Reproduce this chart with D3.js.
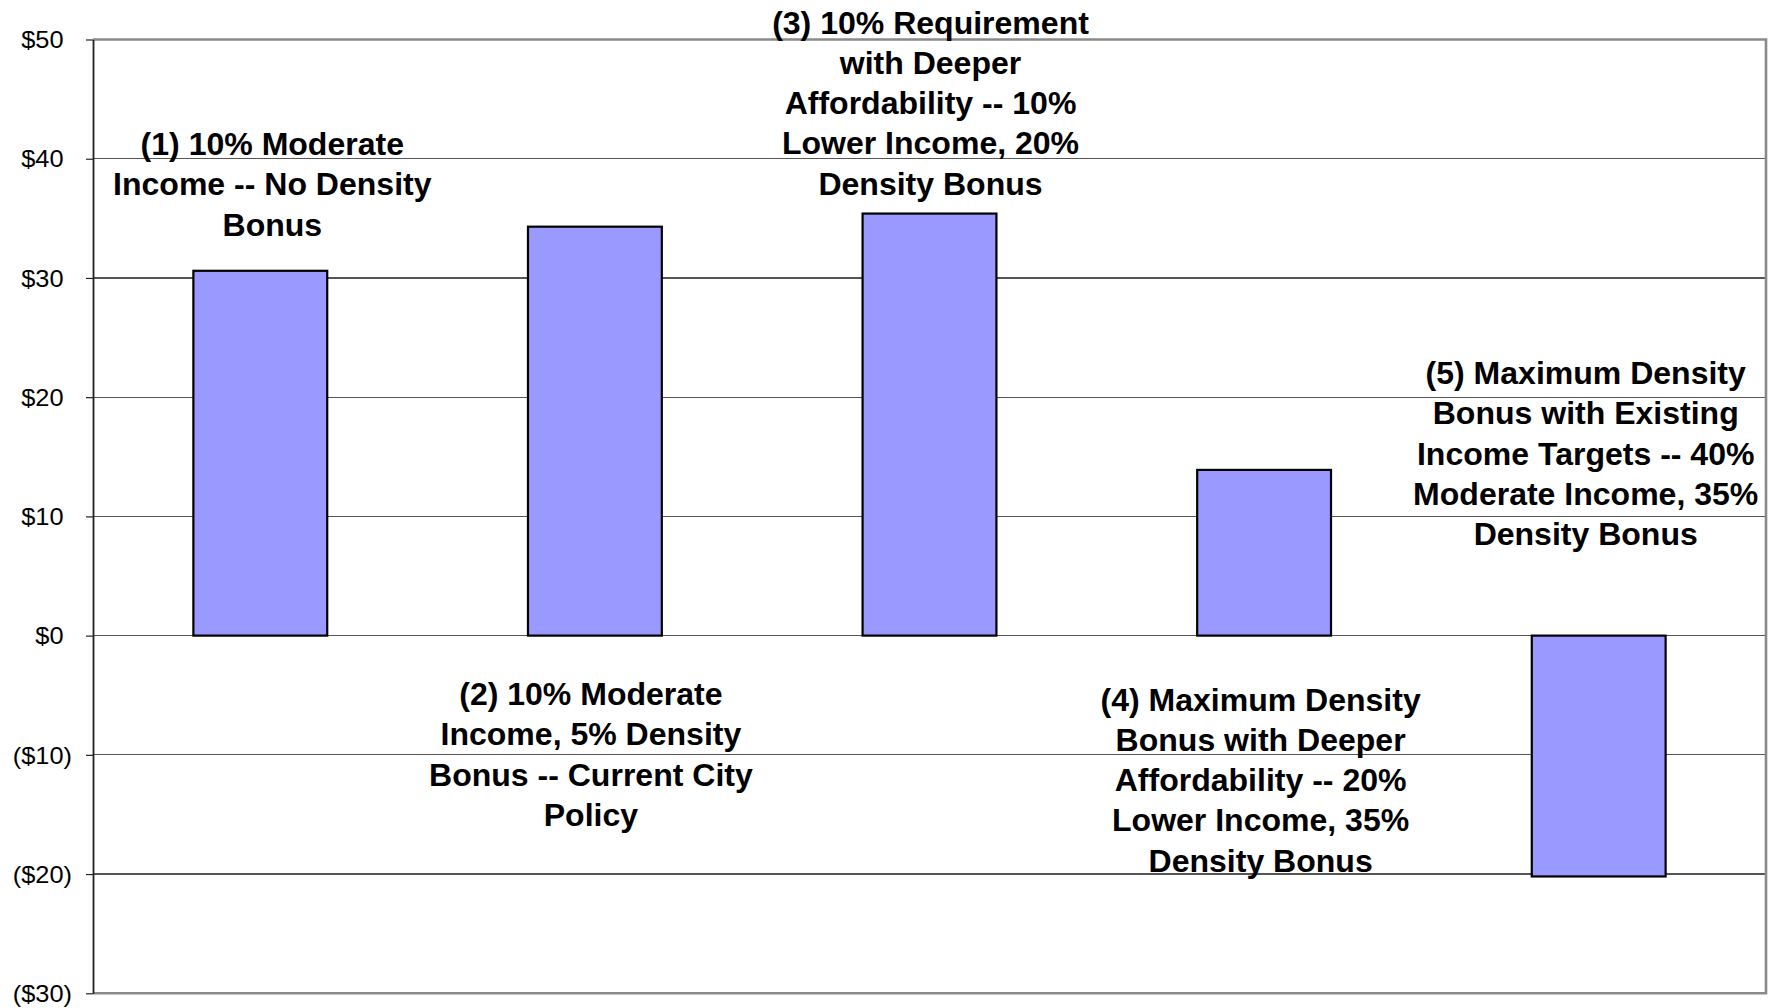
<!DOCTYPE html>
<html>
<head>
<meta charset="utf-8">
<script src="https://cdn.jsdelivr.net/npm/d3@7"></script>
<style>
  html, body { margin: 0; padding: 0; background: #fff; }
  svg { display: block; }
  text { font-family: "Liberation Sans", Arial, Helvetica, sans-serif; fill: #000; }
</style>
</head>
<body>
<svg id="chart" width="1776" height="1008"></svg>
<script>
// Scenarios, in the order they are plotted
const scenarios = ["(1)", "(2)", "(3)", "(4)", "(5)"];

// Net value per scenario, in dollars
const values = [30.6, 34.3, 35.4, 13.9, -20.2];

// Scenario descriptions, broken into lines as printed on the chart
const scenarioLabels = [
  ["(1) 10% Moderate", "Income -- No Density", "Bonus"],
  ["(2) 10% Moderate", "Income, 5% Density", "Bonus -- Current City", "Policy"],
  ["(3) 10% Requirement", "with Deeper", "Affordability -- 10%", "Lower Income, 20%", "Density Bonus"],
  ["(4) Maximum Density", "Bonus with Deeper", "Affordability -- 20%", "Lower Income, 35%", "Density Bonus"],
  ["(5) Maximum Density", "Bonus with Existing", "Income Targets -- 40%", "Moderate Income, 35%", "Density Bonus"]
];

// Value axis ticks
const yTicks = [-30, -20, -10, 0, 10, 20, 30, 40, 50];

// Where each description block sits: horizontal shift from its bar's centre
// and the baseline of its first line (px)
const labelLayout = [
  { dx: 12, top: 155 },
  { dx: -4, top: 705 },
  { dx: 1, top: 33.5 },
  { dx: -3.5, top: 710.5 },
  { dx: -13, top: 384 }
];

const W = 1776, H = 1008;
const plot = { left: 93, right: 1766, top: 39.5, bottom: 993.3 };
const lineGap = 40.3;

const svg = d3.select("#chart");

const x = d3.scaleBand()
  .domain(scenarios)
  .range([plot.left, plot.right])
  .paddingInner(0.6)
  .paddingOuter(0.3);

const y = d3.scaleLinear()
  .domain([d3.min(yTicks), d3.max(yTicks)])
  .range([plot.bottom, plot.top]);

// Horizontal gridlines
svg.append("g")
  .selectAll("line")
  .data(yTicks)
  .join("line")
  .attr("x1", plot.left)
  .attr("x2", plot.right)
  .attr("y1", d => y(d))
  .attr("y2", d => y(d))
  .attr("stroke", "#555")
  .attr("stroke-width", 1.2)
  .attr("shape-rendering", "crispEdges");

// Bars
svg.append("g")
  .selectAll("rect")
  .data(values)
  .join("rect")
  .attr("x", (d, i) => x(scenarios[i]))
  .attr("width", x.bandwidth())
  .attr("y", d => y(Math.max(0, d)))
  .attr("height", d => Math.abs(y(d) - y(0)))
  .attr("fill", "#9999ff")
  .attr("stroke", "#000")
  .attr("stroke-width", 2.2);

// Plot area frame (top, right, bottom)
svg.append("path")
  .attr("d", `M${plot.left},${plot.top}H${plot.right}V${plot.bottom}H${plot.left}`)
  .attr("fill", "none")
  .attr("stroke", "#8a8a8a")
  .attr("stroke-width", 2.6);

// Value axis
const fmt = d => d < 0 ? `($${-d})` : `$${d}`;
const axis = svg.append("g")
  .attr("transform", `translate(${plot.left},0)`)
  .call(d3.axisLeft(y).tickValues(yTicks).tickFormat(fmt).tickSize(7).tickSizeOuter(0));

axis.select(".domain").attr("stroke", "#222").attr("stroke-width", 1.8);
axis.selectAll(".tick line").attr("stroke", "#222").attr("stroke-width", 1.2);
// Positive amounts leave room for the closing parenthesis of negatives
axis.selectAll(".tick text")
  .attr("x", null)
  .attr("dy", null)
  .attr("font-size", 23.5)
  .attr("fill", "#000")
  .attr("text-anchor", "end")
  .attr("dominant-baseline", "central")
  .attr("transform", d => `translate(${d < 0 ? -21 : -29.5},0) scale(1.08,1)`);

// Scenario descriptions
const labels = svg.append("g");
scenarioLabels.forEach((lines, i) => {
  const cx = x(scenarios[i]) + x.bandwidth() / 2 + labelLayout[i].dx;
  const t = labels.append("text")
    .attr("transform", `translate(${cx},${labelLayout[i].top}) scale(1.05,1)`)
    .attr("text-anchor", "middle")
    .attr("font-size", 30.5)
    .attr("font-weight", "bold");
  t.selectAll("tspan")
    .data(lines)
    .join("tspan")
    .attr("x", 0)
    .attr("y", (d, k) => k * lineGap)
    .text(d => d);
});
</script>
</body>
</html>
